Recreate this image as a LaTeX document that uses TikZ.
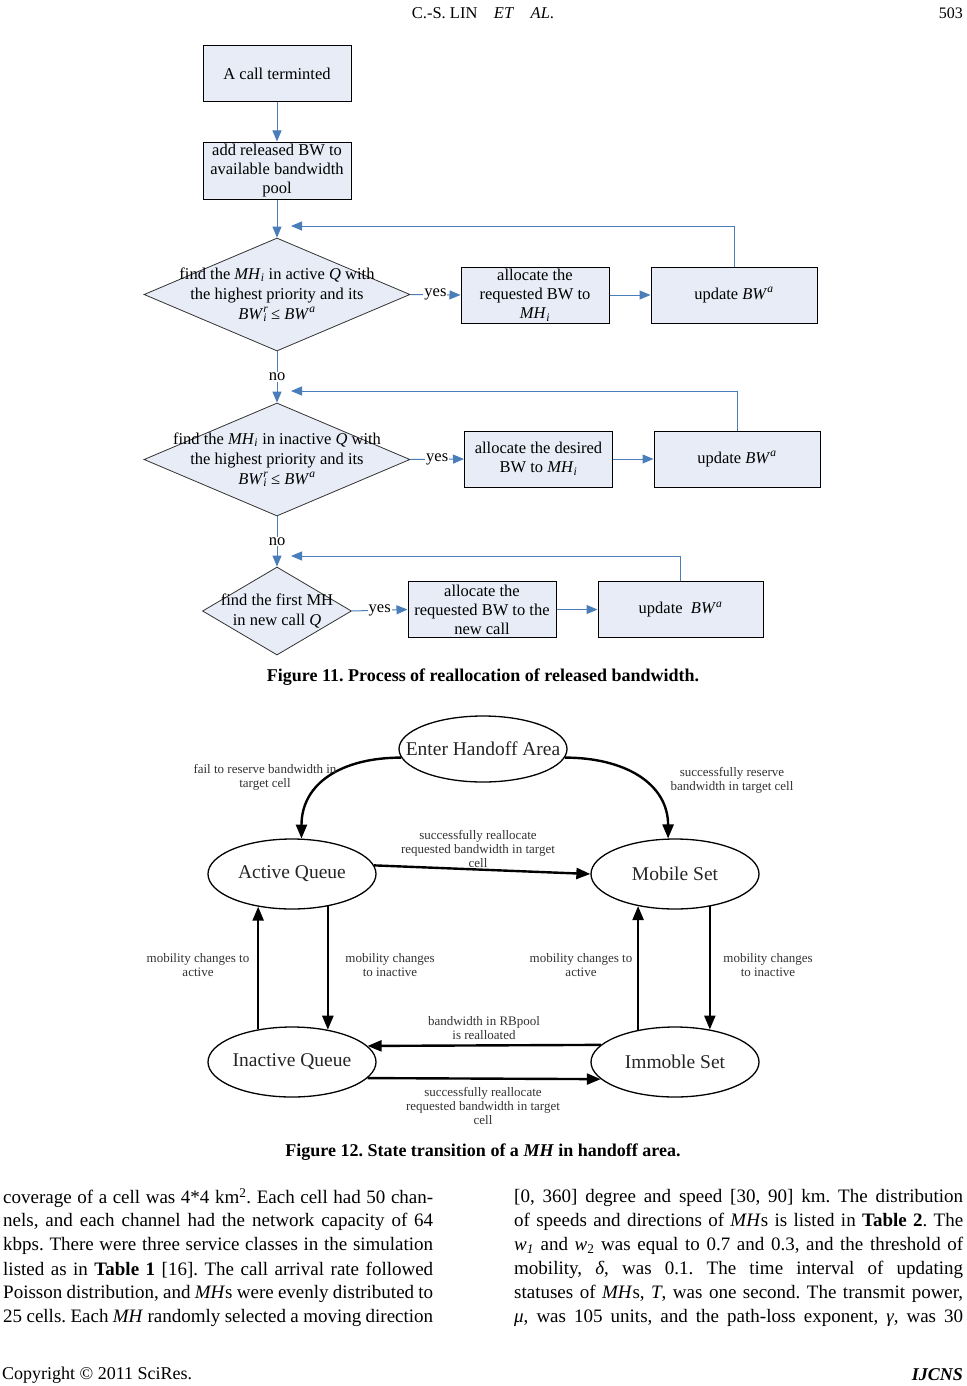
\documentclass[tikz,border=0pt]{standalone}
\usepackage{fontspec}
\setmainfont{Liberation Serif}
\usetikzlibrary{shapes.geometric,arrows.meta,calc}
\definecolor{flowfill}{RGB}{231,236,246}
\definecolor{flowline}{RGB}{74,126,187}
\newcommand\mhi{\textit{MH}\textsubscript{\textit{i}}}
\newcommand\bwa{\textit{BW}\textsuperscript{\textit{a}}}
\newcommand\bwir{\textit{BW}\rlap{\textsuperscript{\textit{r}}}\textsubscript{\textit{i}}}
\newcommand\jleft[1]{\makebox[430pt][s]{#1}}
\newcommand\jright[1]{\makebox[449pt][s]{#1}}
\frenchspacing
\begin{document}
\begin{tikzpicture}[x=1pt,y=-1pt,
  fbox/.style={draw=black, line width=1pt, fill=flowfill, minimum width=148pt, minimum height=56pt, align=center, font=\fontsize{16.5}{19}\selectfont, inner sep=0pt},
  fdia/.style={draw=black!80, line width=0.8pt, fill=flowfill, diamond, inner sep=0pt},
  ftext/.style={align=center, font=\fontsize{16.5}{20}\selectfont, inner sep=0pt},
  farrow/.style={draw=flowline, line width=1pt, -{Triangle[length=11pt,width=9pt]}},
  fmark/.style={fill=white, inner sep=1pt, font=\fontsize{16.5}{20}\selectfont},
  sell/.style={draw, ellipse, line width=1.3pt, minimum width=168pt, minimum height=70pt, inner sep=0pt},
  stext/.style={font=\fontsize{19.5}{23}\selectfont, text=black!85},
  sarrow/.style={draw, line width=2.4pt, -{Triangle[length=14pt,width=11pt]}},
  slab/.style={align=center, font=\fontsize{13}{13.8}\selectfont, text=black!80, inner sep=0pt},
  btext/.style={font=\fontsize{19}{24}\selectfont, inner sep=0pt, anchor=west},
  capt/.style={font=\bfseries\fontsize{18}{20}\selectfont},
]
\useasboundingbox[fill=white] (0,0) rectangle (966,1386);

% header
\node[font=\fontsize{16.5}{18}\selectfont] (hdr) at (483,13) {C.-S. LIN\quad\textit{ET}\quad\textit{AL}.};
\node[font=\fontsize{16}{18}\selectfont, anchor=east, inner sep=0pt] (pg) at (963,13) {503};

% ---------- Figure 11 ----------
\node[fbox] (a) at (277,74) {A call terminted};
\node[fbox, minimum height=57pt] (b) at (277,170.5) {add released BW to\\available bandwidth\\pool};
\node[fdia, minimum width=266pt, minimum height=113pt, label={[ftext]center:find the \mhi{} in active \textit{Q} with\\the highest priority and its\\\bwir{} ≤ \bwa}] (d1) at (277,294.5) {};
\node[fbox] (c1) at (535,295) {allocate the\\requested BW to\\\mhi};
\node[fbox, minimum width=166pt] (u1) at (734,295) {update \bwa};

\node[fdia, minimum width=266pt, minimum height=113pt, label={[ftext]center:find the \mhi{} in inactive \textit{Q} with\\the highest priority and its\\\bwir{} ≤ \bwa}] (d2) at (277,459.5) {};
\node[fbox] (c2) at (538.5,459) {allocate the desired\\BW to \mhi};
\node[fbox, minimum width=166pt] (u2) at (737,459) {update \bwa};

\node[fdia, minimum width=149pt, minimum height=88pt, label={[ftext]center:find the first MH\\in new call \textit{Q}}] (d3) at (277,611) {};
\node[fbox] (c3) at (482,609.5) {allocate the\\requested BW to the\\new call};
\node[fbox, minimum width=165pt] (u3) at (680.5,609.5) {update~~\bwa};

\coordinate (fb1) at (291,226);
\coordinate (fb2) at (291,391);
\coordinate (fb3) at (291,556);

\draw[farrow] (a.south) -- (b.north);
\draw[farrow] (b.south) -- (d1.north);
\draw[farrow] (d1.east) -- node[fmark]{yes} (c1.west);
\draw[farrow] (c1.east) -- (u1.west);
\draw[farrow] (u1.north) |- (fb1);
\draw[farrow] (d1.south) -- node[fmark]{no} (d2.north);
\draw[farrow] (d2.east) -- node[fmark]{yes} (c2.west);
\draw[farrow] (c2.east) -- (u2.west);
\draw[farrow] (u2.north) |- (fb2);
\draw[farrow] (d2.south) -- node[fmark]{no} (d3.north);
\draw[farrow] (d3.east) -- node[fmark]{yes} (c3.west);
\draw[farrow] (c3.east) -- (u3.west);
\draw[farrow] (u3.north) |- (fb3);

\node[capt] (cap11) at (483,677) {Figure 11. Process of reallocation of released bandwidth.};

% ---------- Figure 12 ----------
\node[sell, minimum height=66pt, label={[stext]center:Enter Handoff Area}] (ent) at (483,749) {};
\node[sell, label={[stext]center:Active Queue}] (aq) at (292,874) {};
\node[sell, label={[stext]center:Mobile Set}] (ms) at (675,874) {};
\node[sell, label={[stext]center:Inactive Queue}] (iq) at (292,1062) {};
\node[sell, label={[stext]center:Immoble Set}] (is) at (675,1062) {};

\draw[sarrow] (ent.186) .. controls +(-60,0) and +(0,-55) .. (aq.75);
\draw[sarrow] (ent.354) .. controls +(60,0) and +(0,-55) .. (ms.101);
\draw[sarrow] (aq.6) -- (ms.180);
\draw[sarrow] (iq.136) -- (aq.224);
\draw[sarrow] (aq.318) -- (iq.42);
\draw[sarrow] (is.139) -- (ms.221);
\draw[sarrow] (ms.317) -- (is.43);
\draw[sarrow] (is.167) -- (iq.12);
\draw[sarrow] (iq.348) -- (is.193);

\node[slab] (l1) at (265,777) {fail to reserve bandwidth in\\target cell};
\node[slab] (l2) at (732,780) {successfully reserve\\bandwidth in target cell};
\node[slab] (l3) at (478,849) {successfully reallocate\\requested bandwidth in target\\cell};
\node[slab] (l4) at (198,965) {mobility changes to\\active};
\node[slab] (l5) at (390,965) {mobility changes\\to inactive};
\node[slab] (l6) at (581,965) {mobility changes to\\active};
\node[slab] (l7) at (768,965) {mobility changes\\to inactive};
\node[slab] (l8) at (484,1028) {bandwidth in RBpool\\is realloated};
\node[slab] (l9) at (483,1106) {successfully reallocate\\requested bandwidth in target\\cell};

\node[capt] (cap12) at (483,1152) {Figure 12. State transition of a \textit{MH} in handoff area.};

% ---------- body text ----------
\node[btext] (t1) at (3,1198) {\jleft{coverage of a cell was 4*4 km\textsuperscript{2}. Each cell had 50 chan-}};
\node[btext] (t2) at (3,1222) {\jleft{nels, and each channel had the network capacity of 64}};
\node[btext] (t3) at (3,1246) {\jleft{kbps. There were three service classes in the simulation}};
\node[btext] (t4) at (3,1270) {\jleft{listed as in \textbf{Table 1} [16]. The call arrival rate followed}};
\node[btext] (t5) at (3,1294) {\jleft{Poisson distribution, and \textit{MH}s were evenly distributed to}};
\node[btext] (t6) at (3,1318) {\jleft{25 cells. Each \textit{MH} randomly selected a moving direction}};

\node[btext] (r1) at (514,1198) {\jright{[0, 360] degree and speed [30, 90] km. The distribution}};
\node[btext] (r2) at (514,1222) {\jright{of speeds and directions of \textit{MH}s is listed in \textbf{Table 2}. The}};
\node[btext] (r3) at (514,1246) {\jright{\textit{w}\textsubscript{\textit{1}} and \textit{w}\textsubscript{2} was equal to 0.7 and 0.3, and the threshold of}};
\node[btext] (r4) at (514,1270) {\jright{mobility, \textit{δ}, was 0.1. The time interval of updating}};
\node[btext] (r5) at (514,1294) {\jright{statuses of \textit{MH}s, \textit{T}, was one second. The transmit power,}};
\node[btext] (r6) at (514,1318) {\jright{\textit{μ}, was 105 units, and the path-loss exponent, \textit{γ}, was 30}};

\node[font=\fontsize{18}{20}\selectfont, anchor=west, inner sep=0pt] (cp) at (2,1375) {Copyright © 2011 SciRes.};
\node[font=\bfseries\itshape\fontsize{18}{20}\selectfont, anchor=east, inner sep=0pt] (ij) at (963,1375) {IJCNS};
\end{tikzpicture}
\end{document}
